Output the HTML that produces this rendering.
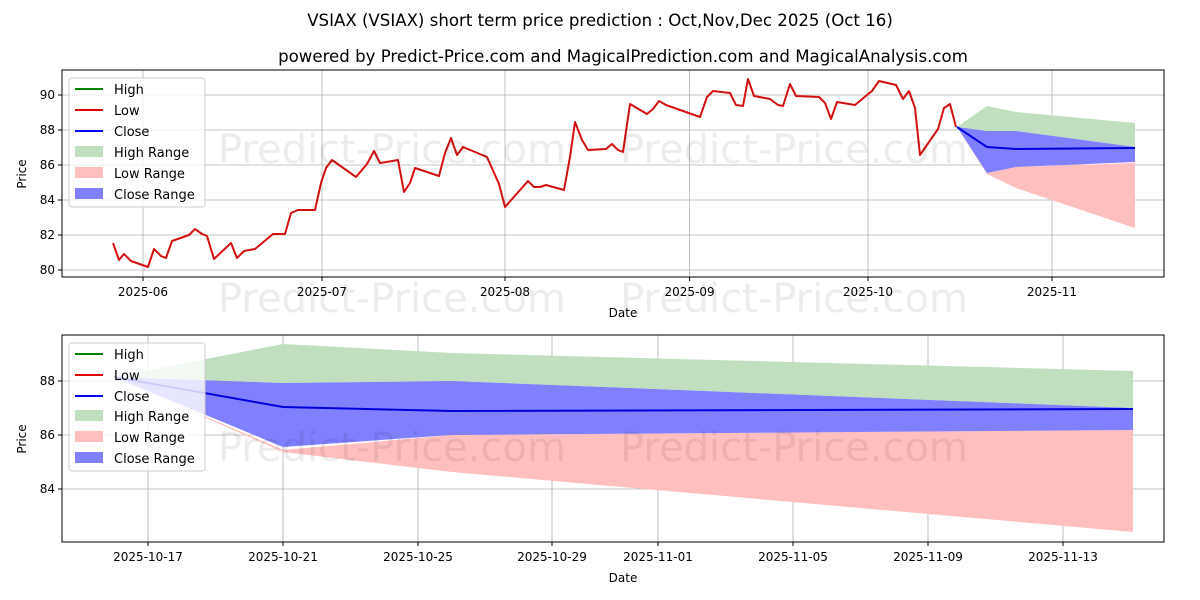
<!DOCTYPE html>
<html><head><meta charset="utf-8"><style>body{margin:0;background:#fff}svg{display:block;font-family:"DejaVu Sans","Liberation Sans",sans-serif}</style></head><body>
<svg width="1200" height="600" xmlns="http://www.w3.org/2000/svg">
<rect width="1200" height="600" fill="#fff"/>
<text x="600" y="26" font-size="16.6" text-anchor="middle">VSIAX (VSIAX) short term price prediction : Oct,Nov,Dec 2025 (Oct 16)</text>
<text x="623" y="62" font-size="16.6" text-anchor="middle">powered by Predict-Price.com and MagicalPrediction.com and MagicalAnalysis.com</text>
<!-- top grid -->
<g stroke="#b0b0b0" stroke-width="0.8">
<line x1="62" x2="1164" y1="95" y2="95"/><line x1="62" x2="1164" y1="130" y2="130"/><line x1="62" x2="1164" y1="165" y2="165"/><line x1="62" x2="1164" y1="200" y2="200"/><line x1="62" x2="1164" y1="235" y2="235"/><line x1="62" x2="1164" y1="270" y2="270"/>
<line x1="143" x2="143" y1="70" y2="277"/><line x1="322" x2="322" y1="70" y2="277"/><line x1="505" x2="505" y1="70" y2="277"/><line x1="689.6" x2="689.6" y1="70" y2="277"/><line x1="868" x2="868" y1="70" y2="277"/><line x1="1052" x2="1052" y1="70" y2="277"/>
</g>
<polygon points="957,127 987,106 1016,112 1135,123 1135,147 1016,131 987,131" fill="#bfdfbf"/>
<polygon points="957,127 987,173 1016,167 1135,163 1135,228 1016,188 987,174" fill="#ffbfbf"/>
<polygon points="957,127 987,131 1016,131 1135,147 1135,162 1016,167 987,173" fill="#8080ff"/>
<polyline fill="none" stroke="#0000dd" stroke-width="2" points="957,127 987,147 1016,149 1135,148"/>
<polyline fill="none" stroke="#d40f0f" stroke-width="2" stroke-linejoin="round" points="113,243 119,260 124,254 131,261 148,267 154,249 161,256 166,258 172,241 189,235 195,229 202,234 207,236 214,259 231,243 237,258 244,251 255,249 273,234 285,234 291,213 298,210 315,210 321,183 326,168 332,160 356,177 367,164 374,151 380,163 398,160 404,192 410,183 415,168 439,176 445,153 451,138 457,155 463,147 487,157 499,184 505,207 528,181 534,187 540,187 546,185 564,190 570,157 575,122 582,140 588,150 606,149 612,144 618,150 623,152 630,104 647,114 653,109 659,101 666,105 700,117 707,97 713,91 730,93 736,105 743,106 748,79 754,96 770,99 778,105 783,106 790,84 796,96 819,97 825,103 831,119 837,102 855,105 867,95 872,91 879,81 896,85 903,99 909,91 915,108 920,155 938,129 944,108 950,104 956,127"/>
<!-- bottom grid & fills -->
<g stroke="#b0b0b0" stroke-width="0.8">
<line x1="62" x2="1164" y1="381" y2="381"/><line x1="62" x2="1164" y1="435" y2="435"/><line x1="62" x2="1164" y1="489" y2="489"/>
<line x1="148" x2="148" y1="335" y2="542"/><line x1="283" x2="283" y1="335" y2="542"/><line x1="418" x2="418" y1="335" y2="542"/><line x1="552" x2="552" y1="335" y2="542"/><line x1="658" x2="658" y1="335" y2="542"/><line x1="793" x2="793" y1="335" y2="542"/><line x1="928" x2="928" y1="335" y2="542"/><line x1="1063" x2="1063" y1="335" y2="542"/>
</g>
<polygon points="114,377 283,344 452,353 1133,371 1133,408 452,381 283,383" fill="#bfdfbf"/>
<polygon points="114,377 283,450 452,435 1133,430 1133,532 452,472 283,452" fill="#ffbfbf"/>
<polygon points="114,377 283,383 452,381 1133,408 1133,430 452,435 283,447" fill="#8080ff"/>
<polyline fill="none" stroke="#0000dd" stroke-width="2" points="114,377 283,407 452,411 1133,409"/>
<g font-size="40" fill="#000" opacity="0.07">
<text x="218" y="163">Predict-Price.com</text><text x="620" y="163">Predict-Price.com</text>
<text x="218" y="312">Predict-Price.com</text><text x="620" y="312">Predict-Price.com</text>
<text x="218" y="461">Predict-Price.com</text><text x="620" y="461">Predict-Price.com</text>
</g>
<rect x="62" y="70" width="1102" height="207" fill="none" stroke="#000" stroke-width="1"/>
<g font-size="12" text-anchor="end">
<text x="55" y="99">90</text><text x="55" y="134">88</text><text x="55" y="169">86</text><text x="55" y="204">84</text><text x="55" y="239">82</text><text x="55" y="274">80</text>
</g>
<g stroke="#000"><line x1="58" x2="62" y1="95" y2="95"/><line x1="58" x2="62" y1="130" y2="130"/><line x1="58" x2="62" y1="165" y2="165"/><line x1="58" x2="62" y1="200" y2="200"/><line x1="58" x2="62" y1="235" y2="235"/><line x1="58" x2="62" y1="270" y2="270"/>
<line x1="143" x2="143" y1="277" y2="281"/><line x1="322" x2="322" y1="277" y2="281"/><line x1="505" x2="505" y1="277" y2="281"/><line x1="689.6" x2="689.6" y1="277" y2="281"/><line x1="868" x2="868" y1="277" y2="281"/><line x1="1052" x2="1052" y1="277" y2="281"/></g>
<g font-size="12" text-anchor="middle">
<text x="143" y="296">2025-06</text><text x="322" y="296">2025-07</text><text x="505" y="296">2025-08</text><text x="689.6" y="296">2025-09</text><text x="868" y="296">2025-10</text><text x="1052" y="296">2025-11</text>
<text x="623" y="317">Date</text>
<text transform="translate(26,174) rotate(-90)">Price</text>
</g>
<g>
<rect x="69" y="78" width="136" height="129" rx="3" fill="#fff" fill-opacity="0.8" stroke="#ccc"/>
<g font-size="13">
<line x1="75" x2="103" y1="89" y2="89" stroke="#008000" stroke-width="2"/><text x="114" y="94">High</text>
<line x1="75" x2="103" y1="110" y2="110" stroke="#e00000" stroke-width="2"/><text x="114" y="115">Low</text>
<line x1="75" x2="103" y1="131" y2="131" stroke="#0000ff" stroke-width="2"/><text x="114" y="136">Close</text>
<rect x="75" y="146" width="28" height="11" fill="#bfdfbf"/><text x="114" y="157">High Range</text>
<rect x="75" y="167" width="28" height="11" fill="#ffbfbf"/><text x="114" y="178">Low Range</text>
<rect x="75" y="188" width="28" height="11" fill="#8080ff"/><text x="114" y="199">Close Range</text>
</g></g>
<rect x="62" y="335" width="1102" height="207" fill="none" stroke="#000" stroke-width="1"/>
<g stroke="#000"><line x1="58" x2="62" y1="381" y2="381"/><line x1="58" x2="62" y1="435" y2="435"/><line x1="58" x2="62" y1="489" y2="489"/>
<line x1="148" x2="148" y1="542" y2="546"/><line x1="283" x2="283" y1="542" y2="546"/><line x1="418" x2="418" y1="542" y2="546"/><line x1="552" x2="552" y1="542" y2="546"/><line x1="658" x2="658" y1="542" y2="546"/><line x1="793" x2="793" y1="542" y2="546"/><line x1="928" x2="928" y1="542" y2="546"/><line x1="1063" x2="1063" y1="542" y2="546"/></g>
<g font-size="12" text-anchor="end"><text x="55" y="385">88</text><text x="55" y="439">86</text><text x="55" y="493">84</text></g>
<g font-size="12" text-anchor="middle">
<text x="148" y="561">2025-10-17</text><text x="283" y="561">2025-10-21</text><text x="418" y="561">2025-10-25</text><text x="552" y="561">2025-10-29</text><text x="658" y="561">2025-11-01</text><text x="793" y="561">2025-11-05</text><text x="928" y="561">2025-11-09</text><text x="1063" y="561">2025-11-13</text>
<text x="623" y="582">Date</text>
<text transform="translate(26,439) rotate(-90)">Price</text>
</g>
<g>
<rect x="69" y="343" width="136" height="128" rx="3" fill="#fff" fill-opacity="0.8" stroke="#ccc"/>
<g font-size="13">
<line x1="75" x2="103" y1="354" y2="354" stroke="#008000" stroke-width="2"/><text x="114" y="359">High</text>
<line x1="75" x2="103" y1="375" y2="375" stroke="#e00000" stroke-width="2"/><text x="114" y="380">Low</text>
<line x1="75" x2="103" y1="396" y2="396" stroke="#0000ff" stroke-width="2"/><text x="114" y="401">Close</text>
<rect x="75" y="410" width="28" height="11" fill="#bfdfbf"/><text x="114" y="421">High Range</text>
<rect x="75" y="431" width="28" height="11" fill="#ffbfbf"/><text x="114" y="442">Low Range</text>
<rect x="75" y="452" width="28" height="11" fill="#8080ff"/><text x="114" y="463">Close Range</text>
</g></g>
</svg>
</body></html>
